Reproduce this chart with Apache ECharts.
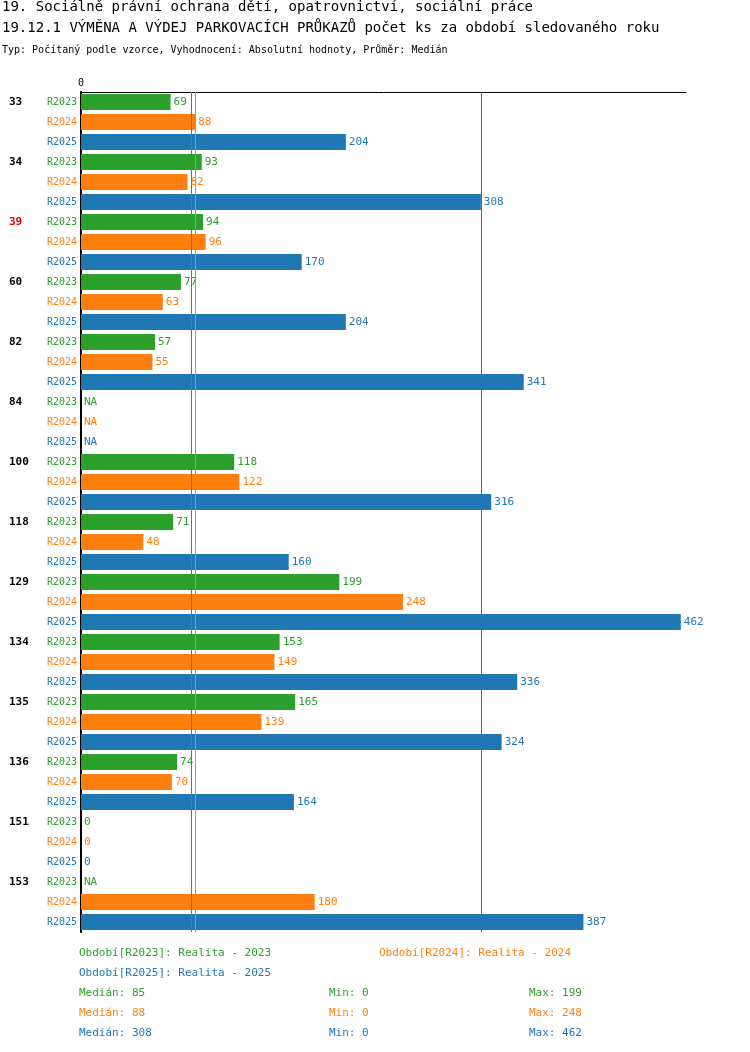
<!DOCTYPE html>
<html><head><meta charset="utf-8">
<script src="https://cdn.jsdelivr.net/npm/echarts@6/dist/echarts.min.js"></script>
<style>body{margin:0;background:#fff}#c{width:750px;height:1052px}</style>
</head><body><div id="c"></div>
<script>
// groups (obce) and per-year values; null = NA
const groups = ['33','34','39','60','82','84','100','118','129','134','135','136','151','153'];
const r2023 = [69, 93, 94, 77, 57, null, 118, 71, 199, 153, 165, 74, 0, null];
const r2024 = [88, 82, 96, 63, 55, null, 122, 48, 248, 149, 139, 70, 0, 180];
const r2025 = [204, 308, 170, 204, 341, null, 316, 160, 462, 336, 324, 164, 0, 387];
const years = ['R2023', 'R2024', 'R2025'];
const medians = [85, 88, 308];
const mins = [0, 0, 0];
const maxs = [199, 248, 462];
const colors = ['#2ca02c', '#ff7f0e', '#1f77b4'];
const highlight = '39';

const FONT = 'DejaVu Sans Mono';
const rows = [];
groups.forEach(g => years.forEach(y => rows.push(g + '|' + y)));

function seriesFor(arr, k) {
    const data = rows.map((r, i) => {
        if (i % 3 !== k) return null;
        const v = arr[Math.floor(i / 3)];
        return { value: v == null ? 0 : v, na: v == null };
    });
    return {
        type: 'bar', name: years[k], data, barWidth: 16, barGap: '-100%',
        itemStyle: { color: colors[k] },
        label: {
            show: true, position: 'right', distance: 3, color: colors[k],
            fontFamily: FONT, fontSize: 11,
            formatter: p => p.data && p.data.na ? 'NA' : String(p.value)
        },
        markLine: {
            symbol: 'none', silent: true, label: { show: false },
            lineStyle: { color: colors[k], type: 'solid', width: 1 },
            data: [{ xAxis: medians[k] }]
        },
        z: 3
    };
}

const chart = echarts.init(document.getElementById('c'));
const legendTexts = [];
const small = (x, y, text, color) => ({ type: 'text', left: x, top: y, style: { text, fill: color, font: '11px ' + FONT } });
legendTexts.push(small(79, 948, 'Období[R2023]: Realita - 2023', colors[0]));
legendTexts.push(small(379, 948, 'Období[R2024]: Realita - 2024', colors[1]));
legendTexts.push(small(79, 968, 'Období[R2025]: Realita - 2025', colors[2]));
for (let k = 0; k < 3; k++) {
    const y = 988 + k * 20;
    legendTexts.push(small(79, y, 'Medián: ' + medians[k], colors[k]));
    legendTexts.push(small(329, y, 'Min: ' + mins[k], colors[k]));
    legendTexts.push(small(529, y, 'Max: ' + maxs[k], colors[k]));
}

chart.setOption({
    animation: false,
    grid: { left: 81, top: 92, width: 605, height: 840 },
    graphic: [
        { type: 'text', left: 2, top: 0, style: { text: '19. Sociálně právní ochrana dětí, opatrovnictví, sociální práce', fill: '#000', font: '14px ' + FONT } },
        { type: 'text', left: 2, top: 21, style: { text: '19.12.1 VÝMĚNA A VÝDEJ PARKOVACÍCH PRŮKAZŮ počet ks za období sledovaného roku', fill: '#000', font: '14px ' + FONT } },
        { type: 'text', left: 2, top: 45, style: { text: 'Typ: Počítaný podle vzorce, Vyhodnocení: Absolutní hodnoty, Průměr: Medián', fill: '#000', font: '10px ' + FONT } },
        ...legendTexts
    ],
    xAxis: {
        type: 'value', position: 'top', min: 0, max: 466, interval: 466,
        axisLine: { show: true, lineStyle: { color: '#000' } },
        axisTick: { show: false }, splitLine: { show: false },
        axisLabel: { fontFamily: FONT, fontSize: 10, color: '#000', margin: 4, formatter: v => v === 0 ? '0' : '' }
    },
    yAxis: [{
        type: 'category', data: rows, inverse: true,
        axisLine: { show: true, lineStyle: { color: '#000', width: 2 } },
        axisTick: { show: false },
        axisLabel: {
            margin: 4, fontFamily: FONT, fontSize: 10,
            formatter: (v, i) => '{y' + (i % 3) + '|' + v.split('|')[1] + '}',
            rich: { y0: { color: colors[0], fontFamily: FONT, fontSize: 10 }, y1: { color: colors[1], fontFamily: FONT, fontSize: 10 }, y2: { color: colors[2], fontFamily: FONT, fontSize: 10 } }
        }
    }, {
        type: 'category', data: rows, inverse: true, position: 'left',
        axisLine: { show: false }, axisTick: { show: false },
        axisLabel: {
            margin: 72, align: 'left', fontFamily: FONT, fontSize: 11, fontWeight: 'bold',
            formatter: (v, i) => {
                if (i % 3) return '';
                const g = v.split('|')[0];
                return g === highlight ? '{r|' + g + '}' : g;
            },
            color: '#000',
            rich: { r: { color: '#e00000', fontFamily: FONT, fontSize: 11, fontWeight: 'bold' } }
        }
    }],
    series: [seriesFor(r2023, 0), seriesFor(r2024, 1), seriesFor(r2025, 2)]
});
</script></body></html>
